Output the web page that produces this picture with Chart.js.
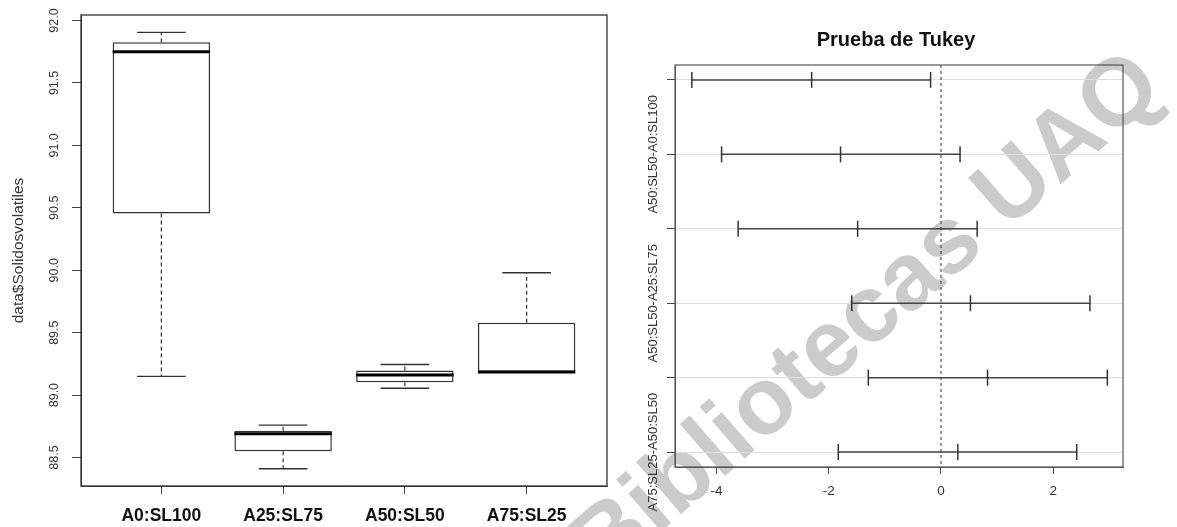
<!DOCTYPE html>
<html><head><meta charset="utf-8">
<script src="https://cdn.jsdelivr.net/npm/chart.js"></script>
<style>
html,body{margin:0;padding:0;background:#fff;width:1177px;height:527px;overflow:hidden;position:relative;font-family:"Liberation Sans",Arial,sans-serif}
#wm{position:absolute;left:864px;top:312px;transform:translate(-50%,-50%) rotate(-41deg);font:bold 95px "Liberation Sans",Arial,sans-serif;color:#cbcbcb;white-space:nowrap;line-height:1;z-index:0}
#c1{position:absolute;left:0;top:0;z-index:1}
#c2{position:absolute;left:620px;top:0;z-index:1}
</style></head><body>
<div id="wm">Bibliotecas UAQ</div>
<canvas id="c1" width="620" height="527"></canvas>
<canvas id="c2" width="557" height="527"></canvas>
<script>
// ---- Left panel data (boxplot) ----
const groups = ['A0:SL100', 'A25:SL75', 'A50:SL50', 'A75:SL25'];
const boxMin = [89.15, 88.41, 89.055, 89.185];
const boxQ1 = [90.455, 88.55, 89.103, 89.185];
const boxMedian = [91.75, 88.69, 89.16, 89.185];
const boxQ3 = [91.825, 88.715, 89.197, 89.58];
const boxMax = [91.905, 88.76, 89.245, 89.98];
const yTicksLeft = [88.5, 89.0, 89.5, 90.0, 90.5, 91.0, 91.5, 92.0];
const yTitleLeft = 'data$Solidosvolatiles';

// ---- Right panel data (Tukey intervals) ----
const comparisons = ['A25:SL75-A0:SL100', 'A50:SL50-A0:SL100', 'A75:SL25-A0:SL100',
                     'A50:SL50-A25:SL75', 'A75:SL25-A25:SL75', 'A75:SL25-A50:SL50'];
const diffs  = [-2.305, -1.79, -1.485, 0.525, 0.83, 0.30];
const lowers = [-4.44, -3.91, -3.615, -1.59, -1.295, -1.83];
const uppers = [-0.185, 0.34, 0.645, 2.655, 2.965, 2.42];
const shownComparisonLabels = ['A50:SL50-A0:SL100', 'A50:SL50-A25:SL75', 'A75:SL25-A50:SL50'];
const xTicksRight = [-4, -2, 0, 2];
const rightTitle = 'Prueba de Tukey';

const FONT = '"Liberation Sans", Arial, sans-serif';

function seg(ctx, x1, y1, x2, y2) { ctx.beginPath(); ctx.moveTo(x1, y1); ctx.lineTo(x2, y2); ctx.stroke(); }

const boxPlugin = {
  id: 'boxExtras',
  afterDatasetsDraw(chart) {
    const ctx = chart.ctx, y = chart.scales.y, a = chart.chartArea;
    const meta = chart.getDatasetMeta(0);
    ctx.save();
    ctx.strokeStyle = '#333';
    groups.forEach((g, i) => {
      const el = meta.data[i];
      const cx = el.x, half = el.width / 2, cap = el.width / 4;
      ctx.lineWidth = 1.2; ctx.setLineDash([4, 3]);
      if (boxMax[i] > boxQ3[i]) seg(ctx, cx, y.getPixelForValue(boxQ3[i]), cx, y.getPixelForValue(boxMax[i]));
      if (boxMin[i] < boxQ1[i]) seg(ctx, cx, y.getPixelForValue(boxQ1[i]), cx, y.getPixelForValue(boxMin[i]));
      ctx.setLineDash([]);
      ctx.lineWidth = 1.3;
      seg(ctx, cx - cap, y.getPixelForValue(boxMax[i]), cx + cap, y.getPixelForValue(boxMax[i]));
      seg(ctx, cx - cap, y.getPixelForValue(boxMin[i]), cx + cap, y.getPixelForValue(boxMin[i]));
      ctx.strokeStyle = '#000'; ctx.lineWidth = 3;
      seg(ctx, cx - half, y.getPixelForValue(boxMedian[i]), cx + half, y.getPixelForValue(boxMedian[i]));
      ctx.strokeStyle = '#333';
    });
    ctx.lineWidth = 1.3; ctx.strokeStyle = '#333';
    ctx.strokeRect(a.left, a.top, a.right - a.left, a.bottom - a.top);
    // rotated y tick labels
    ctx.fillStyle = '#333';
    ctx.font = '12.5px ' + FONT;
    ctx.textAlign = 'center'; ctx.textBaseline = 'middle';
    yTicksLeft.forEach(v => {
      ctx.save();
      ctx.translate(55, y.getPixelForValue(v));
      ctx.rotate(-Math.PI / 2);
      ctx.fillText(v.toFixed(1), 0, 0);
      ctx.restore();
    });
    ctx.restore();
  }
};

new Chart(document.getElementById('c1'), {
  type: 'bar',
  data: {
    datasets: [{
      data: groups.map((g, i) => ({ x: i + 1, y: [boxQ1[i], boxQ3[i]] })),
      backgroundColor: '#fff', borderColor: '#333', borderWidth: 1.5, borderSkipped: false,
      barPercentage: 0.8, categoryPercentage: 1
    }]
  },
  options: {
    responsive: false, animation: false, events: [],
    layout: { padding: { top: 15, right: 13, left: 0, bottom: 0 } },
    plugins: { legend: { display: false }, tooltip: { enabled: false } },
    scales: {
      x: {
        type: 'linear', min: 0.34, max: 4.66, offset: false,
        afterBuildTicks: s => { s.ticks = groups.map((g, i) => ({ value: i + 1 })); },
        ticks: { callback: v => groups[Math.round(v) - 1] || '', font: { family: FONT, size: 17.5, weight: 'bold' },
                 color: '#111', padding: 12, maxRotation: 0, minRotation: 0, autoSkip: false },
        grid: { offset: false, drawOnChartArea: false, drawTicks: true, tickLength: 8, tickColor: '#444' },
        border: { display: true, color: '#333', width: 1 },
        afterFit: s => { s.height = 41; }
      },
      y: {
        type: 'linear', min: 88.272, max: 92.044,
        afterBuildTicks: s => { s.ticks = yTicksLeft.map(v => ({ value: v })); },
        ticks: { display: false },
        grid: { drawOnChartArea: false, drawTicks: true, tickLength: 9, tickColor: '#444' },
        border: { display: true, color: '#333', width: 1 },
        title: { display: true, text: yTitleLeft, font: { family: FONT, size: 15.5 }, color: '#333', padding: { top: 9, bottom: 0 } },
        afterFit: s => { s.width = 81; }
      }
    }
  },
  plugins: [boxPlugin]
});

const tukeyPlugin = {
  id: 'tukeyExtras',
  beforeDatasetsDraw(chart) {
    const ctx = chart.ctx, x = chart.scales.x, a = chart.chartArea;
    ctx.save();
    ctx.strokeStyle = '#333'; ctx.lineWidth = 1; ctx.setLineDash([3, 3]);
    const x0 = x.getPixelForValue(0);
    seg(ctx, x0, a.top, x0, a.bottom);
    ctx.restore();
  },
  afterDatasetsDraw(chart) {
    const ctx = chart.ctx, y = chart.scales.y, a = chart.chartArea;
    ctx.save();
    ctx.lineWidth = 1.2; ctx.strokeStyle = '#555';
    ctx.strokeRect(a.left, a.top, a.right - a.left, a.bottom - a.top);
    // title
    ctx.fillStyle = '#111';
    ctx.font = 'bold 20px ' + FONT;
    ctx.textAlign = 'center'; ctx.textBaseline = 'middle';
    ctx.fillText(rightTitle, (a.left + a.right) / 2 - 3, 40);
    // rotated y labels
    ctx.fillStyle = '#333';
    ctx.font = '13px ' + FONT;
    comparisons.forEach((c, i) => {
      if (!shownComparisonLabels.includes(c)) return;
      ctx.save();
      ctx.translate(33, y.getPixelForValue(comparisons.length - i));
      ctx.rotate(-Math.PI / 2);
      ctx.fillText(c, 0, 0);
      ctx.restore();
    });
    ctx.restore();
  }
};

new Chart(document.getElementById('c2'), {
  type: 'scatter',
  data: {
    datasets: comparisons.map((c, i) => ({
      label: c,
      data: [
        { x: lowers[i], y: comparisons.length - i },
        { x: diffs[i], y: comparisons.length - i },
        { x: uppers[i], y: comparisons.length - i }
      ],
      showLine: true, borderColor: '#444', borderWidth: 1.5,
      pointStyle: 'line', rotation: 90, pointRadius: 8, pointBorderColor: '#333', pointBorderWidth: 1.5,
      pointBackgroundColor: '#333'
    }))
  },
  options: {
    responsive: false, animation: false, events: [],
    layout: { padding: { top: 65, right: 54, left: 0, bottom: 0 } },
    plugins: { legend: { display: false }, tooltip: { enabled: false } },
    scales: {
      x: {
        type: 'linear', min: -4.74, max: 3.244,
        afterBuildTicks: s => { s.ticks = xTicksRight.map(v => ({ value: v })); },
        ticks: { font: { family: FONT, size: 13.5 }, color: '#333', padding: 9, maxRotation: 0, autoSkip: false },
        grid: { drawOnChartArea: false, drawTicks: true, tickLength: 7, tickColor: '#444' },
        border: { display: true, color: '#555', width: 1 },
        afterFit: s => { s.height = 60; }
      },
      y: {
        type: 'linear', min: 0.8, max: 6.2,
        afterBuildTicks: s => { s.ticks = comparisons.map((c, i) => ({ value: i + 1 })); },
        ticks: { display: false },
        grid: { drawOnChartArea: true, color: '#dedede', lineWidth: 1, drawTicks: true, tickLength: 8, tickColor: '#444' },
        border: { display: true, color: '#555', width: 1 },
        afterFit: s => { s.width = 55; }
      }
    }
  },
  plugins: [tukeyPlugin]
});
</script>
</body></html>
